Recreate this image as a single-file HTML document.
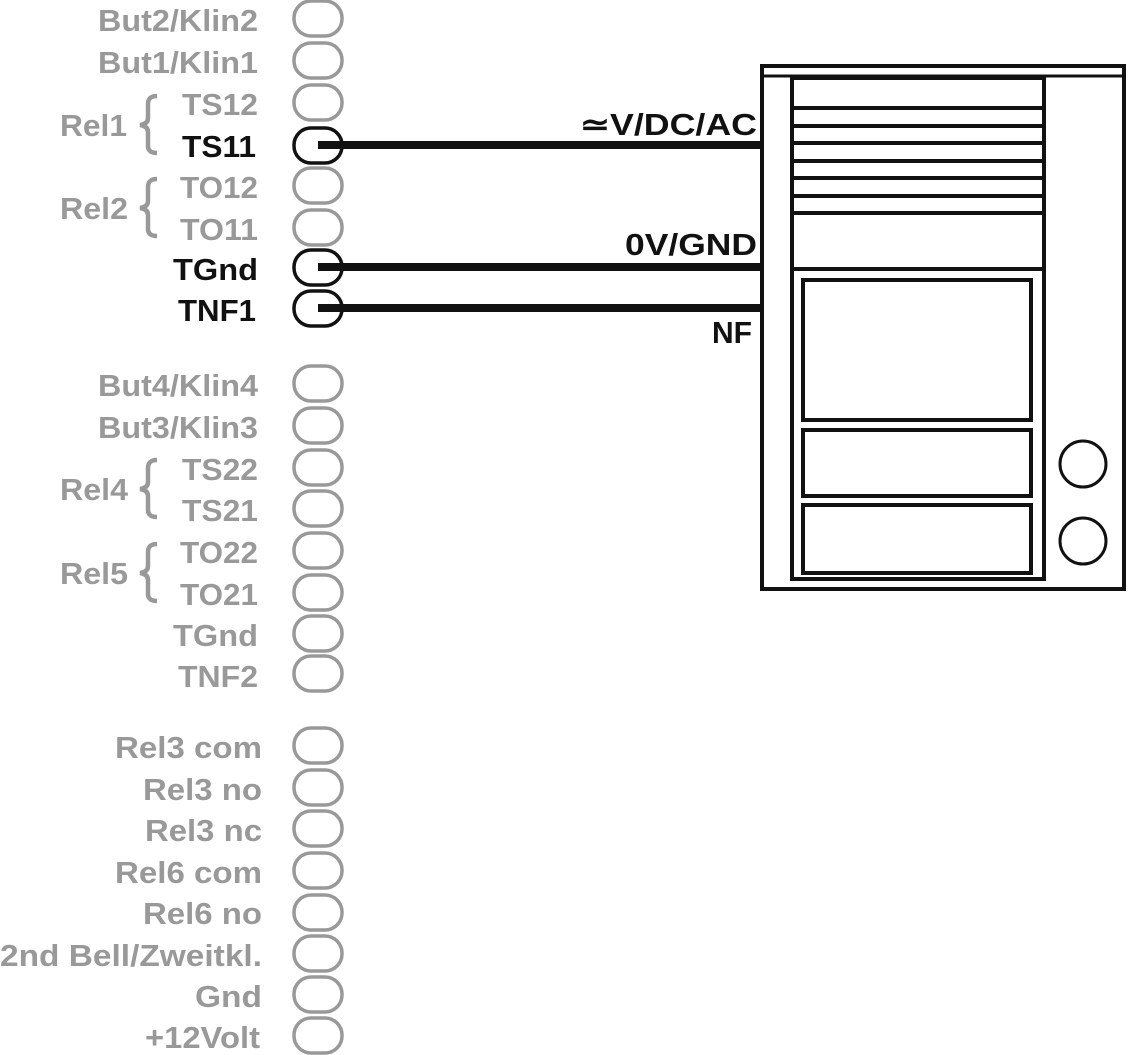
<!DOCTYPE html>
<html><head><meta charset="utf-8"><style>
html,body{margin:0;padding:0;background:#fff;}
svg{display:block;}
text{font-family:"Liberation Sans",Arial,sans-serif;font-weight:bold;font-size:31px;}
.g{fill:#999;}
.k{fill:#111;}
</style></head><body>
<svg width="1128" height="1055" viewBox="0 0 1128 1055" xmlns="http://www.w3.org/2000/svg">
<g fill="none" stroke-width="3.5">
<g stroke="#999">
<rect x="294" y="1" width="48" height="35" rx="17"/>
<rect x="294" y="43" width="48" height="35" rx="17"/>
<rect x="294" y="85" width="48" height="35" rx="17"/>
<rect x="294" y="168" width="48" height="35" rx="17"/>
<rect x="294" y="210" width="48" height="35" rx="17"/>
<rect x="294" y="366" width="48" height="35" rx="17"/>
<rect x="294" y="408" width="48" height="35" rx="17"/>
<rect x="294" y="450" width="48" height="35" rx="17"/>
<rect x="294" y="491" width="48" height="35" rx="17"/>
<rect x="294" y="533" width="48" height="35" rx="17"/>
<rect x="294" y="575" width="48" height="35" rx="17"/>
<rect x="294" y="616" width="48" height="35" rx="17"/>
<rect x="294" y="656" width="48" height="35" rx="17"/>
<rect x="294" y="728" width="48" height="35" rx="17"/>
<rect x="294" y="770" width="48" height="35" rx="17"/>
<rect x="294" y="811" width="48" height="35" rx="17"/>
<rect x="294" y="853" width="48" height="35" rx="17"/>
<rect x="294" y="895" width="48" height="35" rx="17"/>
<rect x="294" y="936" width="48" height="35" rx="17"/>
<rect x="294" y="977" width="48" height="35" rx="17"/>
<rect x="294" y="1018" width="48" height="35" rx="17"/>
</g>
<g stroke="#111">
<rect x="294" y="128" width="48" height="35" rx="17"/>
<rect x="294" y="250" width="48" height="35" rx="17"/>
<rect x="294" y="291" width="48" height="35" rx="17"/>
</g>
<g stroke="#999" stroke-width="4.5">
<path d="M157 96 Q148 96 148 104 V118 Q148 124 140 125 Q148 126 148 132 V146 Q148 153 157 153"/>
<path d="M157 179 Q148 179 148 187 V201 Q148 207 140 208 Q148 209 148 215 V229 Q148 236 157 236"/>
<path d="M157 460 Q148 460 148 468 V482 Q148 488 140 489 Q148 490 148 496 V510 Q148 517 157 517"/>
<path d="M157 544 Q148 544 148 552 V566 Q148 572 140 573 Q148 574 148 580 V594 Q148 601 157 601"/>
</g>
</g>
<g fill="#111">
<rect x="318" y="141" width="444" height="8"/>
<rect x="318" y="263" width="444" height="8"/>
<rect x="318" y="304" width="444" height="8"/>
</g>
<g text-anchor="end">
<text class="g" x="258" y="31" textLength="160" lengthAdjust="spacingAndGlyphs">But2/Klin2</text>
<text class="g" x="258" y="73" textLength="160" lengthAdjust="spacingAndGlyphs">But1/Klin1</text>
<text class="g" x="258" y="115" textLength="76" lengthAdjust="spacingAndGlyphs">TS12</text>
<text class="k" x="256" y="157" textLength="74" lengthAdjust="spacingAndGlyphs">TS11</text>
<text class="g" x="258" y="198" textLength="78" lengthAdjust="spacingAndGlyphs">TO12</text>
<text class="g" x="258" y="240" textLength="78" lengthAdjust="spacingAndGlyphs">TO11</text>
<text class="k" x="258" y="280" textLength="85" lengthAdjust="spacingAndGlyphs">TGnd</text>
<text class="k" x="256" y="321" textLength="78" lengthAdjust="spacingAndGlyphs">TNF1</text>
<text class="g" x="258" y="396" textLength="160" lengthAdjust="spacingAndGlyphs">But4/Klin4</text>
<text class="g" x="258" y="438" textLength="160" lengthAdjust="spacingAndGlyphs">But3/Klin3</text>
<text class="g" x="258" y="480" textLength="76" lengthAdjust="spacingAndGlyphs">TS22</text>
<text class="g" x="258" y="521" textLength="76" lengthAdjust="spacingAndGlyphs">TS21</text>
<text class="g" x="258" y="563" textLength="78" lengthAdjust="spacingAndGlyphs">TO22</text>
<text class="g" x="258" y="605" textLength="78" lengthAdjust="spacingAndGlyphs">TO21</text>
<text class="g" x="258" y="646" textLength="85" lengthAdjust="spacingAndGlyphs">TGnd</text>
<text class="g" x="258" y="687" textLength="80" lengthAdjust="spacingAndGlyphs">TNF2</text>
<text class="g" x="262" y="758" textLength="147" lengthAdjust="spacingAndGlyphs">Rel3 com</text>
<text class="g" x="262" y="800" textLength="119" lengthAdjust="spacingAndGlyphs">Rel3 no</text>
<text class="g" x="262" y="841" textLength="117" lengthAdjust="spacingAndGlyphs">Rel3 nc</text>
<text class="g" x="262" y="883" textLength="147" lengthAdjust="spacingAndGlyphs">Rel6 com</text>
<text class="g" x="262" y="924" textLength="119" lengthAdjust="spacingAndGlyphs">Rel6 no</text>
<text class="g" x="262" y="966" textLength="262" lengthAdjust="spacingAndGlyphs">2nd Bell/Zweitkl.</text>
<text class="g" x="262" y="1007" textLength="67" lengthAdjust="spacingAndGlyphs">Gnd</text>
<text class="g" x="260" y="1048" textLength="115" lengthAdjust="spacingAndGlyphs">+12Volt</text>
<text class="k" x="757" y="135" textLength="177" lengthAdjust="spacingAndGlyphs">≃V/DC/AC</text>
<text class="k" x="757" y="255" textLength="132" lengthAdjust="spacingAndGlyphs">0V/GND</text>
<text class="k" x="752" y="343" textLength="40" lengthAdjust="spacingAndGlyphs">NF</text>
</g>
<g>
<text class="g" x="60" y="136" textLength="67" lengthAdjust="spacingAndGlyphs">Rel1</text>
<text class="g" x="60" y="219" textLength="68" lengthAdjust="spacingAndGlyphs">Rel2</text>
<text class="g" x="60" y="500" textLength="68" lengthAdjust="spacingAndGlyphs">Rel4</text>
<text class="g" x="60" y="584" textLength="68" lengthAdjust="spacingAndGlyphs">Rel5</text>
</g>
<g fill="none" stroke="#111" stroke-width="4">
<rect x="762" y="66" width="362" height="523"/>
<line x1="762" y1="76" x2="1124" y2="76" stroke-width="3"/>
<rect x="792" y="78" width="252" height="501"/>
<line x1="792" y1="108" x2="1044" y2="108"/>
<line x1="792" y1="126" x2="1044" y2="126"/>
<line x1="792" y1="143" x2="1044" y2="143"/>
<line x1="792" y1="161" x2="1044" y2="161"/>
<line x1="792" y1="178" x2="1044" y2="178"/>
<line x1="792" y1="196" x2="1044" y2="196"/>
<line x1="792" y1="213" x2="1044" y2="213"/>
<line x1="792" y1="269" x2="1044" y2="269"/>
<rect x="803" y="280" width="228" height="140"/>
<rect x="803" y="430" width="228" height="66"/>
<rect x="803" y="505" width="228" height="68"/>
<circle cx="1083" cy="464" r="23" stroke-width="3"/>
<circle cx="1083" cy="541" r="23" stroke-width="3"/>
</g>
</svg>
</body></html>
